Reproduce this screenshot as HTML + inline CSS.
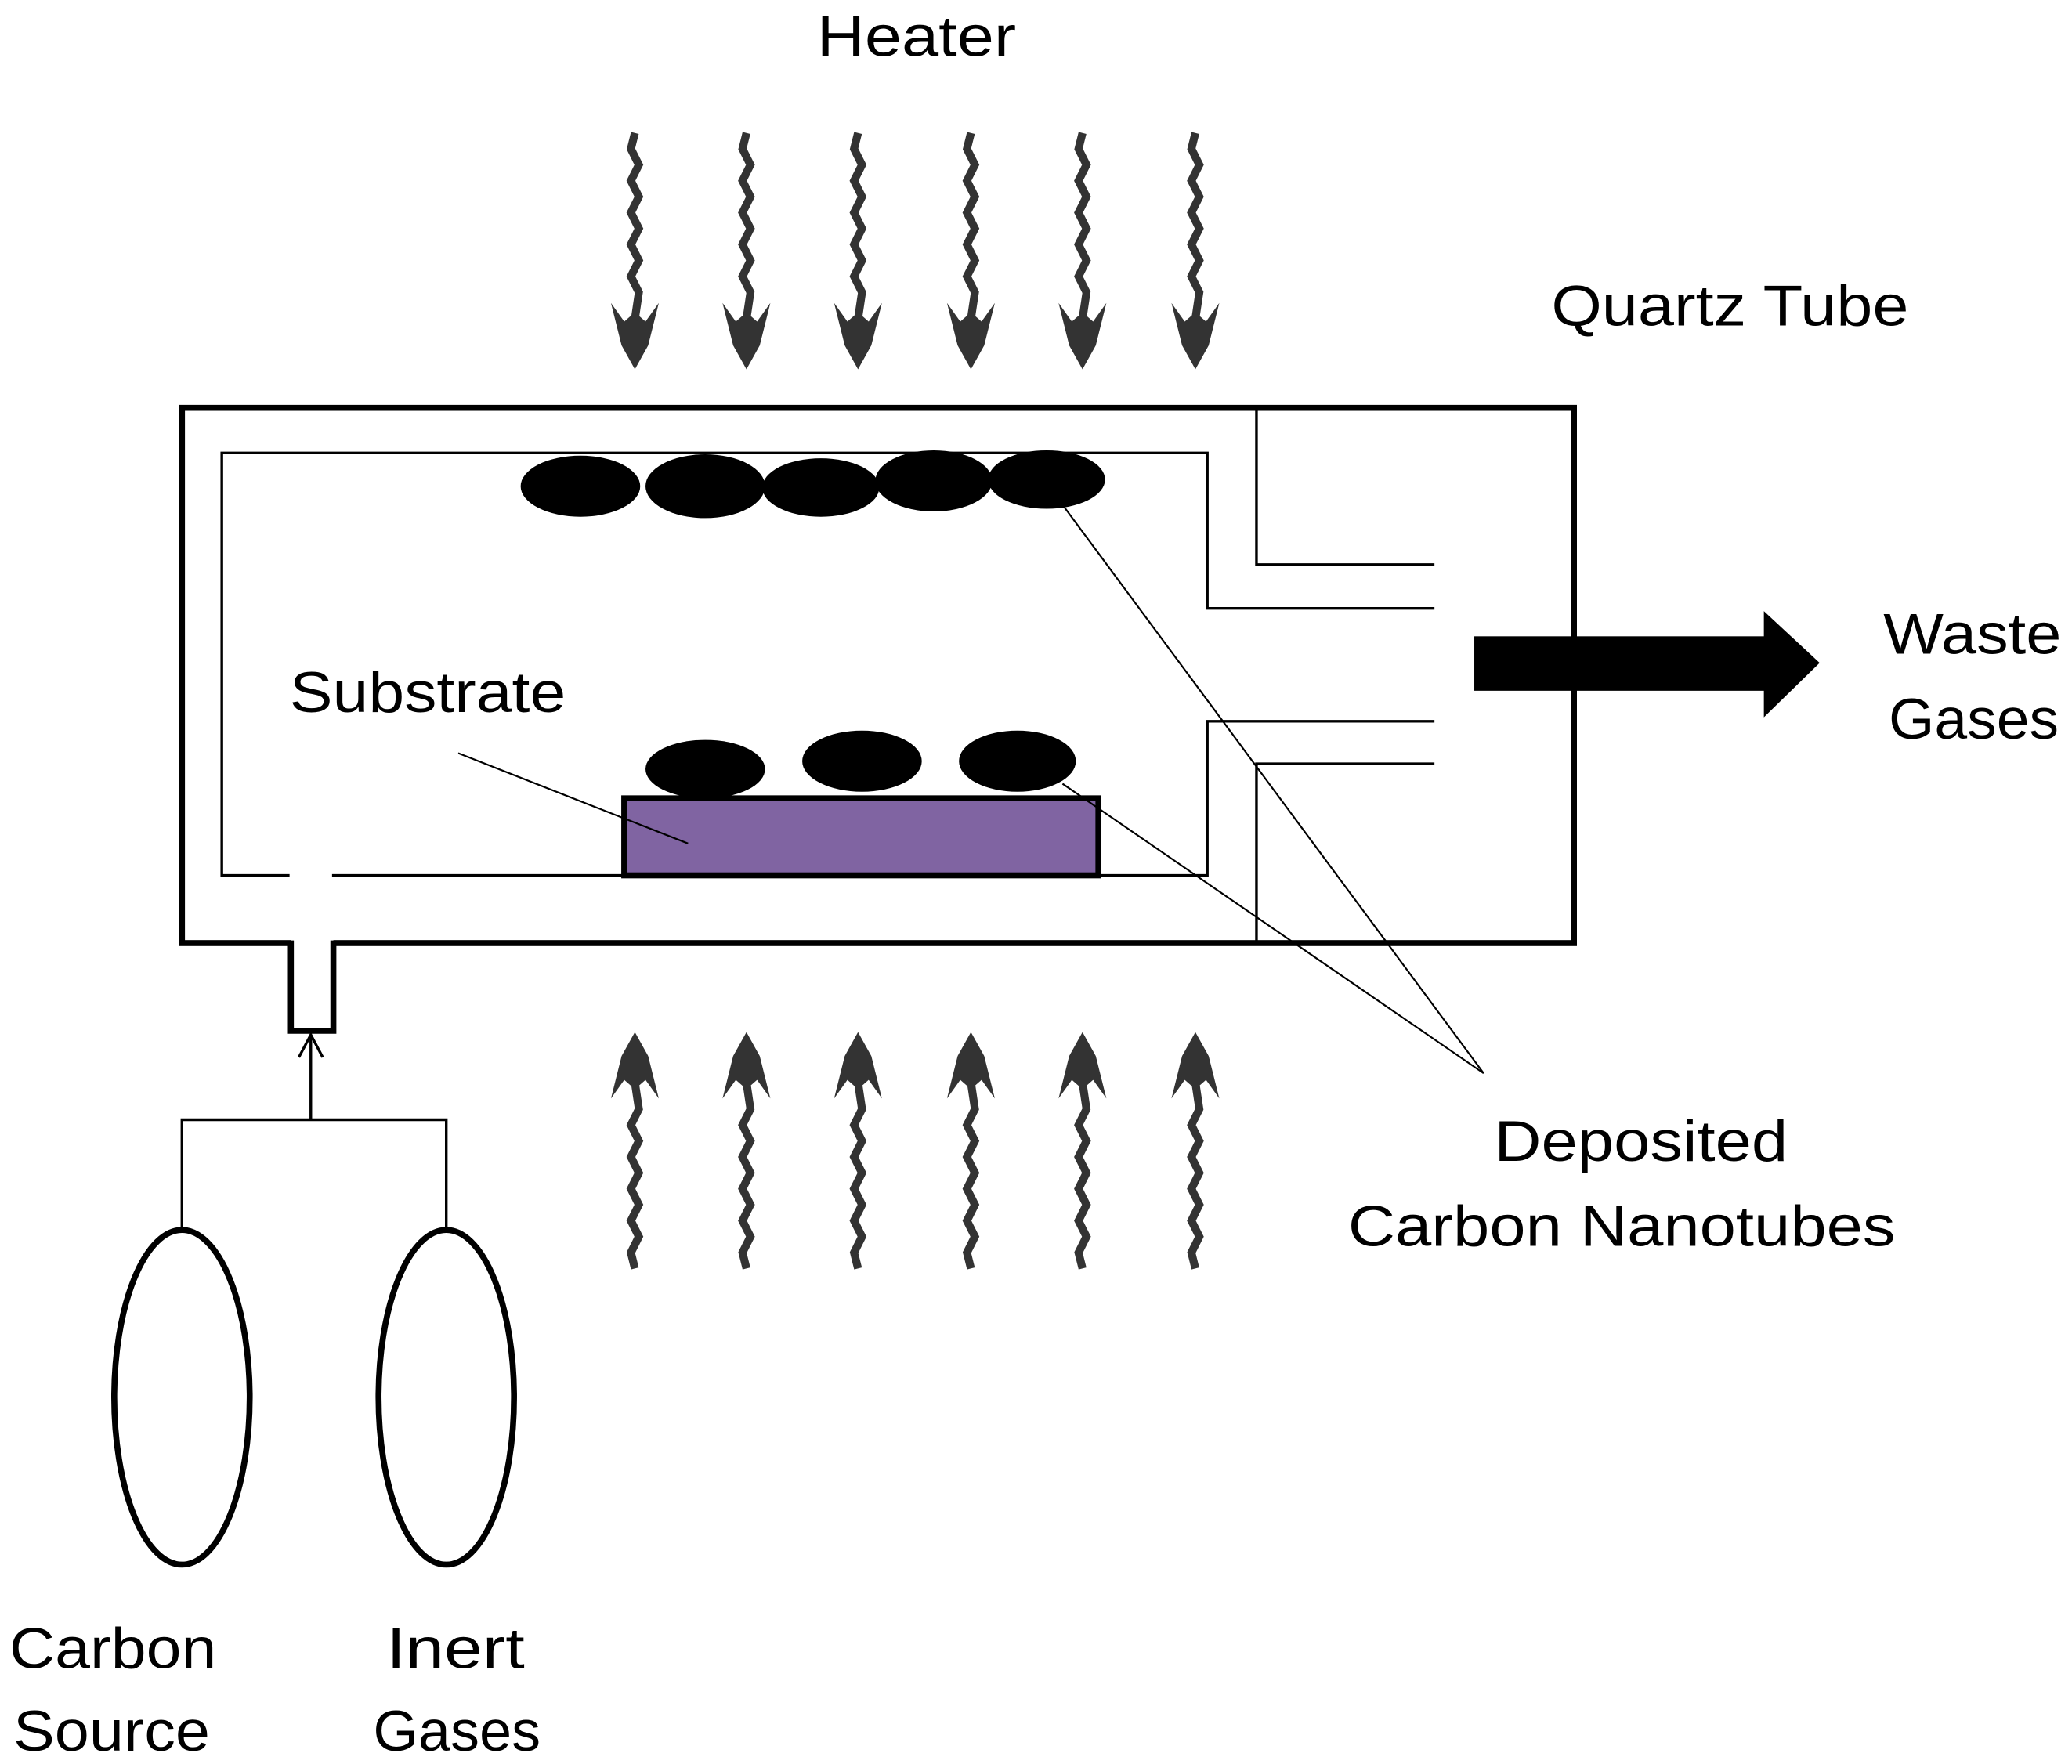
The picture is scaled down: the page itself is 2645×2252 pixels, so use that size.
<!DOCTYPE html>
<html><head><meta charset="utf-8"><style>html,body{margin:0;padding:0;background:#fff}svg{display:block}</style></head>
<body>
<svg width="2645" height="2252" viewBox="0 0 1560 1328" xmlns="http://www.w3.org/2000/svg" font-family="Liberation Sans, sans-serif" font-size="43">
<defs>
<g id="ad">
<polyline points="0,0 -3,12 3,24 -3,36 3,48 -3,60 3,72 -3,84 3,96 -3,108 3,120 0,140" fill="none" stroke="#333" stroke-width="6"/>
<polygon points="-18,128 -8,142 0,135 8,142 18,128 10,160 0,178 -10,160" fill="#333"/>
</g>
</defs>
<rect width="1560" height="1328" fill="#fff"/>
<g>
<use href="#ad" x="478" y="100"/><use href="#ad" x="562" y="100"/><use href="#ad" x="646" y="100"/>
<use href="#ad" x="731" y="100"/><use href="#ad" x="815" y="100"/><use href="#ad" x="900" y="100"/>
</g>
<g transform="translate(0,1055) scale(1,-1)">
<use href="#ad" x="478" y="100"/><use href="#ad" x="562" y="100"/><use href="#ad" x="646" y="100"/>
<use href="#ad" x="731" y="100"/><use href="#ad" x="815" y="100"/><use href="#ad" x="900" y="100"/>
</g>
<rect x="137" y="307" width="1048" height="403" fill="none" stroke="#000" stroke-width="4.5"/>
<rect x="219" y="705" width="32" height="10" fill="#fff"/>
<polyline points="219,708 219,776 251,776 251,708" fill="none" stroke="#000" stroke-width="4.5"/>
<g fill="none" stroke="#000" stroke-width="2">
<polyline points="218,659 167,659 167,341 909,341 909,458 1080,458"/>
<polyline points="1080,543 909,543 909,659 827,659"/>
<line x1="250" y1="659" x2="470" y2="659"/>
<polyline points="946,307 946,425 1080,425"/>
<polyline points="946,710 946,575 1080,575"/>
</g>
<rect x="470" y="601" width="357" height="58" fill="#8064a2" stroke="#000" stroke-width="4.5"/>
<g fill="#000">
<ellipse cx="437" cy="366" rx="45" ry="23"/><ellipse cx="531" cy="366" rx="45" ry="24"/>
<ellipse cx="618" cy="367" rx="44" ry="22"/><ellipse cx="703" cy="362" rx="44" ry="23"/>
<ellipse cx="788" cy="361" rx="44" ry="22"/>
<ellipse cx="531" cy="579" rx="45" ry="22"/><ellipse cx="649" cy="573" rx="45" ry="23"/>
<ellipse cx="766" cy="573" rx="44" ry="23"/>
</g>
<g stroke="#000" stroke-width="1.3" fill="none">
<line x1="345" y1="567" x2="518" y2="635"/>
<line x1="800" y1="380" x2="1117" y2="808"/>
<line x1="800" y1="590" x2="1117" y2="808"/>
</g>
<rect x="1110" y="479" width="222" height="41" fill="#000"/>
<polygon points="1328,460 1370,499 1328,540" fill="#000"/>
<g stroke="#000" stroke-width="2" fill="none">
<line x1="234" y1="843" x2="234" y2="779"/>
<polyline points="225,796 234,779 243,796"/>
<polyline points="137,925 137,843 336,843 336,925"/>
</g>
<ellipse cx="137" cy="1052" rx="51" ry="126" fill="none" stroke="#000" stroke-width="4.5"/>
<ellipse cx="336" cy="1052" rx="51" ry="126" fill="none" stroke="#000" stroke-width="4.5"/>
<g fill="#000" lengthAdjust="spacingAndGlyphs">
<text x="615" y="42" textLength="150" lengthAdjust="spacingAndGlyphs">Heater</text>
<text x="1168" y="245" textLength="269" lengthAdjust="spacingAndGlyphs">Quartz Tube</text>
<text x="1418" y="492" textLength="134" lengthAdjust="spacingAndGlyphs">Waste</text>
<text x="1422" y="556" textLength="128" lengthAdjust="spacingAndGlyphs">Gases</text>
<text x="218" y="536" textLength="208" lengthAdjust="spacingAndGlyphs">Substrate</text>
<text x="1125" y="874" textLength="221" lengthAdjust="spacingAndGlyphs">Deposited</text>
<text x="1015" y="938" textLength="412" lengthAdjust="spacingAndGlyphs">Carbon Nanotubes</text>
<text x="7" y="1256" textLength="156" lengthAdjust="spacingAndGlyphs">Carbon</text>
<text x="10" y="1318" textLength="148" lengthAdjust="spacingAndGlyphs">Source</text>
<text x="291" y="1256" textLength="104" lengthAdjust="spacingAndGlyphs">Inert</text>
<text x="281" y="1318" textLength="126" lengthAdjust="spacingAndGlyphs">Gases</text>
</g>
</svg>
</body></html>
